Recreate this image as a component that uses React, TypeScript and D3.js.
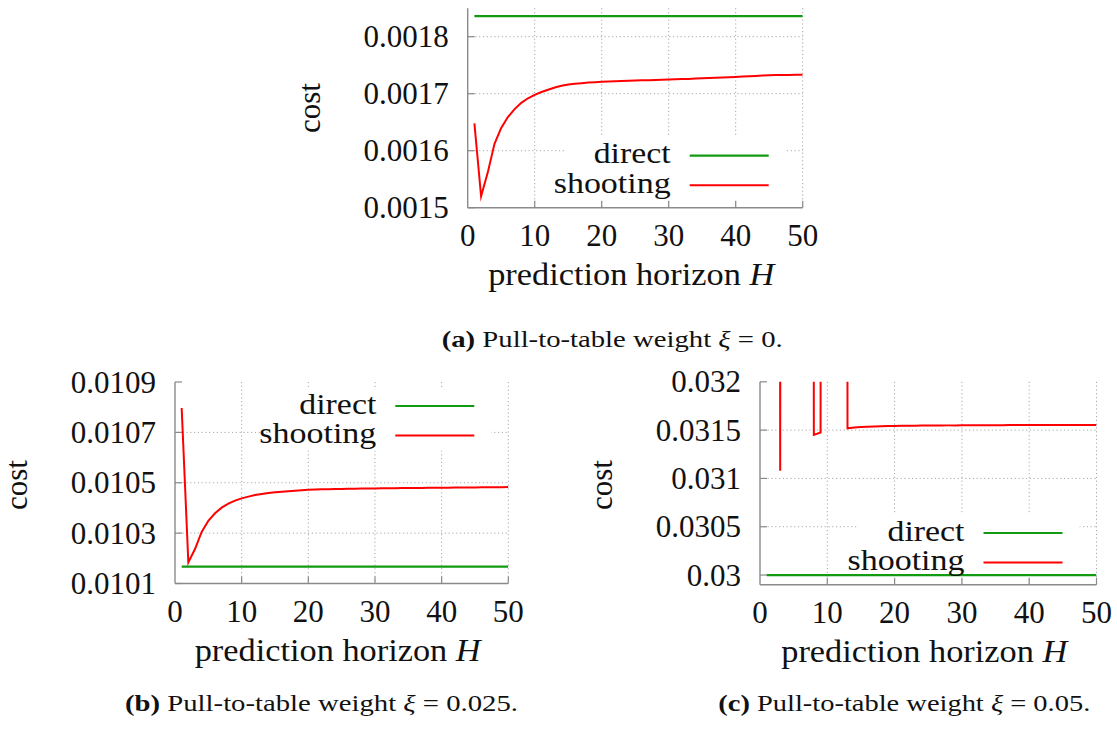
import React from 'react';
import * as d3 from 'd3';

// Prediction horizons evaluated (H = 1 … 50)
const horizons = [
  1, 2, 3, 4, 5, 6, 7, 8, 9, 10, 11, 12, 13, 14, 15, 16, 17, 18, 19, 20, 21, 22, 23, 24, 25,
  26, 27, 28, 29, 30, 31, 32, 33, 34, 35, 36, 37, 38, 39, 40, 41, 42, 43, 44, 45, 46, 47, 48, 49, 50,
];

// Closed-loop cost of the shooting formulation, one value per horizon
const shootingXi0 = [
  0.001648, 0.00152, 0.001562, 0.001612, 0.00164, 0.001659, 0.001673, 0.001684, 0.001692, 0.001698,
  0.001703, 0.001707, 0.001711, 0.001714, 0.001716, 0.0017175, 0.0017185, 0.0017195, 0.0017203, 0.001721,
  0.0017215, 0.001722, 0.0017224, 0.0017228, 0.0017232, 0.0017235, 0.0017238, 0.0017241, 0.0017245, 0.0017248,
  0.0017252, 0.0017256, 0.001726, 0.0017265, 0.001727, 0.0017275, 0.001728, 0.0017285, 0.001729, 0.0017295,
  0.00173, 0.0017306, 0.0017312, 0.0017318, 0.0017324, 0.0017328, 0.001733, 0.001733, 0.0017331, 0.0017332,
];
const shootingXi025 = [
  0.010797, 0.010184, 0.010237, 0.010305, 0.010349, 0.010379, 0.010401, 0.010417, 0.010429, 0.010438,
  0.010445, 0.010451, 0.010455, 0.010459, 0.010462, 0.010464, 0.010466, 0.010468, 0.01047, 0.010472,
  0.010473, 0.0104737, 0.0104744, 0.010475, 0.0104755, 0.010476, 0.0104765, 0.010477, 0.0104773, 0.0104776,
  0.0104779, 0.0104782, 0.0104785, 0.0104788, 0.010479, 0.0104793, 0.0104796, 0.0104798, 0.01048, 0.0104803,
  0.0104806, 0.0104808, 0.010481, 0.0104813, 0.0104816, 0.0104818, 0.010482, 0.0104823, 0.0104826, 0.0104828,
];
// Several short horizons blow up far above the plotted range
const shootingXi05 = [
  0.09, 0.12, 0.03108, 0.11, 0.1, 0.1, 0.13, 0.031451, 0.031476, 0.12,
  0.1, 0.14, 0.031519, 0.031527, 0.031532, 0.031535, 0.031538, 0.03154, 0.031542, 0.031543,
  0.031544, 0.031545, 0.031546, 0.031547, 0.031547, 0.031548, 0.031548, 0.031549, 0.031549, 0.03155,
  0.03155, 0.03155, 0.031551, 0.031551, 0.031551, 0.031551, 0.031552, 0.031552, 0.031552, 0.031552,
  0.031552, 0.031553, 0.031553, 0.031553, 0.031553, 0.031553, 0.031553, 0.031553, 0.031553, 0.031553,
];

// Direct formulation does not depend on the horizon
const directXi0 = 0.001836;
const directXi025 = 0.010167;
const directXi05 = 0.03;

const xTicks = [0, 10, 20, 30, 40, 50];
const yTicksXi0 = [0.0015, 0.0016, 0.0017, 0.0018];
const yLabelsXi0 = ['0.0015', '0.0016', '0.0017', '0.0018'];
const yTicksXi025 = [0.0101, 0.0103, 0.0105, 0.0107, 0.0109];
const yLabelsXi025 = ['0.0101', '0.0103', '0.0105', '0.0107', '0.0109'];
const yTicksXi05 = [0.03, 0.0305, 0.031, 0.0315, 0.032];
const yLabelsXi05 = ['0.03', '0.0305', '0.031', '0.0315', '0.032'];

const seriesNames = ['direct', 'shooting'];
const captionTags = ['(a)', '(b)', '(c)'];
const captionWeights = ['0', '0.025', '0.05'];

const GREEN = '#129a12';
const RED = '#ff0000';
const AXIS = '#8a8a8a';
const GRID = '#a8a8a8';
const SERIF = "'Liberation Serif', 'Times New Roman', serif";

type PanelSpec = {
  id: string;
  left: number;
  right: number;
  top: number;
  bottom: number;
  yDomain: [number, number];
  yTicks: number[];
  yLabels: string[];
  shooting: number[];
  direct: number;
  legendY: number;
  costX: number;
  costY: number;
};

const panels: PanelSpec[] = [
  {
    id: 'a', left: 467.7, right: 802.7, top: 8.2, bottom: 207.7,
    yDomain: [0.0015, 0.00185], yTicks: yTicksXi0, yLabels: yLabelsXi0,
    shooting: shootingXi0, direct: directXi0, legendY: 155.7, costX: 320, costY: 108,
  },
  {
    id: 'b', left: 175, right: 508.3, top: 382, bottom: 583.5,
    yDomain: [0.0101, 0.0109], yTicks: yTicksXi025, yLabels: yLabelsXi025,
    shooting: shootingXi025, direct: directXi025, legendY: 406, costX: 27, costY: 485,
  },
  {
    id: 'c', left: 760, right: 1096.5, top: 381.8, bottom: 584.7,
    yDomain: [0.0299, 0.032], yTicks: yTicksXi05, yLabels: yLabelsXi05,
    shooting: shootingXi05, direct: directXi05, legendY: 533, costX: 612, costY: 485,
  },
];

function Panel({ p }: { p: PanelSpec }) {
  const x = d3.scaleLinear().domain([0, 50]).range([p.left, p.right]);
  const y = d3.scaleLinear().domain(p.yDomain).range([p.bottom, p.top]);
  const line = d3
    .line<number>()
    .x((_, i) => x(horizons[i]))
    .y((d) => y(d));
  const directPath = d3
    .line<number>()
    .x((h) => x(h))
    .y(() => y(p.direct))([horizons[0], horizons[horizons.length - 1]]);

  const textRight = p.right - 132;
  const sampleX0 = p.right - 113;
  const sampleX1 = p.right - 34;
  const row2 = p.legendY + 29.5;
  const clipId = `clip-${p.id}`;

  return (
    <g>
      <defs>
        <clipPath id={clipId}>
          <rect x={p.left} y={p.top} width={p.right - p.left} height={p.bottom - p.top} />
        </clipPath>
      </defs>
      {/* dotted grid */}
      {xTicks.slice(1).map((t) => (
        <line key={`gx${t}`} x1={x(t)} x2={x(t)} y1={p.top} y2={p.bottom}
          stroke={GRID} strokeWidth={1} strokeDasharray="1.2,2.6" />
      ))}
      {p.yTicks.slice(1).filter((t) => y(t) > p.top + 2).map((t) => (
        <line key={`gy${t}`} x1={p.left} x2={p.right} y1={y(t)} y2={y(t)}
          stroke={GRID} strokeWidth={1} strokeDasharray="1.2,2.6" />
      ))}
      {/* opaque key background */}
      <rect x={textRight - 106} y={p.legendY - 19} width={sampleX1 + 17 - (textRight - 106)}
        height={row2 + 15 - (p.legendY - 19)} fill="#fff" />
      {/* axes */}
      <line x1={p.left} x2={p.left} y1={p.top} y2={p.bottom} stroke={AXIS} strokeWidth={1.4} />
      <line x1={p.left} x2={p.right} y1={p.bottom} y2={p.bottom} stroke={AXIS} strokeWidth={1.4} />
      {xTicks.slice(1).map((t) => (
        <line key={`tx${t}`} x1={x(t)} x2={x(t)} y1={p.bottom} y2={p.bottom - 7}
          stroke={AXIS} strokeWidth={1.2} />
      ))}
      {p.yTicks.map((t) => (
        <line key={`ty${t}`} x1={p.left} x2={p.left + 7} y1={y(t)} y2={y(t)}
          stroke={AXIS} strokeWidth={1.2} />
      ))}
      {/* tick labels */}
      {xTicks.map((t) => (
        <text key={`lx${t}`} x={x(t)} y={p.bottom + 38.5} textAnchor="middle"
          fontFamily={SERIF} fontSize={31} fill="#111">{t}</text>
      ))}
      {p.yTicks.map((t, i) => (
        <text key={`ly${t}`} x={p.left - 19} y={y(t) + 10.5} textAnchor="end"
          fontFamily={SERIF} fontSize={31} fill="#111">{p.yLabels[i]}</text>
      ))}
      {/* axis titles */}
      <text x={(p.left + p.right) / 2 - 4} y={p.bottom + 77} textAnchor="middle"
        fontFamily={SERIF} fontSize={31} fill="#111" textLength={286} lengthAdjust="spacingAndGlyphs">
        prediction horizon <tspan fontStyle="italic">H</tspan>
      </text>
      <text transform={`translate(${p.costX},${p.costY}) rotate(-90)`} textAnchor="middle"
        fontFamily={SERIF} fontSize={31} fill="#111">cost</text>
      {/* data */}
      <g clipPath={`url(#${clipId})`}>
        <path d={directPath ?? ''} fill="none" stroke={GREEN} strokeWidth={2.2} />
        <path d={line(p.shooting) ?? ''} fill="none" stroke={RED} strokeWidth={2}
          strokeLinejoin="miter" strokeMiterlimit={10} />
      </g>
      {/* key */}
      <text x={textRight} y={p.legendY + 7.6} textAnchor="end" fontFamily={SERIF} fontSize={30}
        fill="#111" textLength={77} lengthAdjust="spacingAndGlyphs">{seriesNames[0]}</text>
      <line x1={sampleX0} x2={sampleX1} y1={p.legendY} y2={p.legendY} stroke={GREEN} strokeWidth={2.2} />
      <text x={textRight} y={row2 + 7.6} textAnchor="end" fontFamily={SERIF} fontSize={30}
        fill="#111" textLength={117} lengthAdjust="spacingAndGlyphs">{seriesNames[1]}</text>
      <line x1={sampleX0} x2={sampleX1} y1={row2} y2={row2} stroke={RED} strokeWidth={2} />
    </g>
  );
}

const captionPos = [
  { x: 441.7, y: 347, w: 341 },
  { x: 125, y: 711, w: 393 },
  { x: 718.3, y: 711, w: 372 },
];

export default function App() {
  return (
    <div style={{ position: 'absolute', left: 0, top: 0 }}>
      <svg width={1117} height={729} viewBox="0 0 1117 729" style={{ display: 'block', background: '#fff' }}>
        <rect width={1117} height={729} fill="#fff" />
        {panels.map((p) => (
          <Panel key={p.id} p={p} />
        ))}
        {captionPos.map((c, i) => (
          <text key={i} x={c.x} y={c.y} fontFamily={SERIF} fontSize={23} fill="#111"
            textLength={c.w} lengthAdjust="spacingAndGlyphs">
            <tspan fontWeight="bold">{captionTags[i]}</tspan>
            {' Pull-to-table weight '}
            <tspan fontStyle="italic">ξ</tspan>
            {` = ${captionWeights[i]}.`}
          </text>
        ))}
      </svg>
    </div>
  );
}
